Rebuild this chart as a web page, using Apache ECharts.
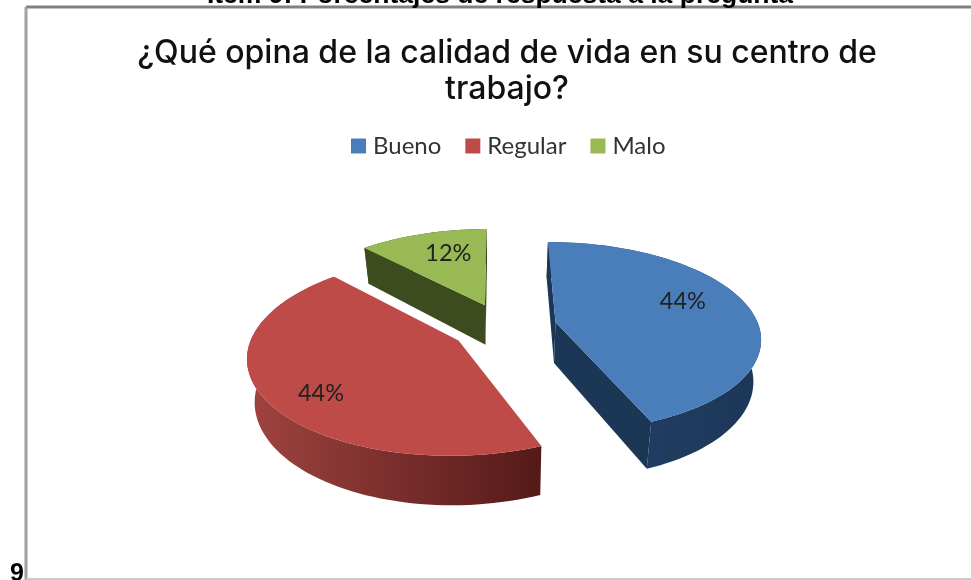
<!DOCTYPE html>
<html>
<head>
<meta charset="utf-8">
<script src="https://cdn.jsdelivr.net/npm/echarts@6/dist/echarts.min.js"></script>
<style>html,body{margin:0;padding:0;background:#fff}#chart{width:971px;height:580px}</style>
</head>
<body>
<div id="chart"></div>
<script>
// Survey answers, in percent
const categories = ['Bueno', 'Regular', 'Malo'];
const percentages = [44, 44, 12];
const topColors = ['#4a7ebb', '#be4b48', '#98b954'];
const wallLight = ['#24446c', '#a04340', '#47591f'];
const wallDark = ['#1c3656', '#541a18', '#3c4c1e'];
const labelShift = [[0.22, -0.15], [-0.215, 0.26], [-0.045, -0.23]];

// Projection of the tilted pie onto the page
const view = {
  x0: 504, y0: 327, radius: 203.5, squash: 0.46, persp: 0.15,
  explode: 0.26, depth: 41, baseShrink: 0.97, firstAngle: -0.3
};

function project(u, v, lowered) {
  const w = 1 - view.persp * v;
  const shrink = lowered ? view.baseShrink : 1;
  return [
    view.x0 + view.radius * u / w * shrink,
    view.y0 + view.radius * view.squash * v / w + (lowered ? view.depth / w : 0)
  ];
}

const rad = a => a * Math.PI / 180;
const dir = a => [Math.sin(rad(a)), -Math.cos(rad(a))];

function sliceSpan(index) {
  const total = percentages.reduce((s, p) => s + p, 0);
  const before = percentages.slice(0, index).reduce((s, p) => s + p, 0);
  const start = view.firstAngle + before / total * 360;
  return [start, start + percentages[index] / total * 360];
}

function renderSlice(index) {
  const [a0, a1] = sliceSpan(index);
  const mid = dir((a0 + a1) / 2);
  const ou = mid[0] * view.explode, ov = mid[1] * view.explode;
  const rim = [];
  for (let a = a0; a <= a1 + 1e-6; a += (a1 - a0) / 80) {
    const d = dir(a);
    rim.push([ou + d[0], ov + d[1]]);
  }
  const at = (p, low) => project(p[0], p[1], low);
  const centre = [ou, ov];
  const polygon = (points, fill) => ({ type: 'polygon', shape: { points }, style: { fill } });
  const shade = {
    type: 'linear', x: 0, y: 0, x2: 1, y2: 0,
    colorStops: [{ offset: 0, color: wallLight[index] }, { offset: 1, color: wallDark[index] }]
  };
  const children = [
    polygon(rim.map(p => at(p)).concat(rim.slice().reverse().map(p => at(p, true))), shade)
  ];
  // A cut face shows only when it turns towards the viewer
  if (-Math.cos(rad(a0 - 90)) > -0.2) {
    children.push(polygon([at(centre), at(rim[0]), at(rim[0], true), at(centre, true)], wallDark[index]));
  }
  if (-Math.cos(rad(a1 + 90)) > -0.2) {
    const end = rim[rim.length - 1];
    children.push(polygon([at(centre), at(end), at(end, true), at(centre, true)], wallDark[index]));
  }
  children.push(polygon([at(centre)].concat(rim.map(p => at(p))), topColors[index]));
  const s = labelShift[index];
  const lp = project(ou + s[0] + mid[0] * 0.45, ov + s[1] + mid[1] * 0.45);
  children.push({
    type: 'text',
    style: {
      x: lp[0], y: lp[1], text: percentages[index] + '%',
      fill: '#222', font: '23.5px Lato', align: 'center', verticalAlign: 'middle'
    }
  });
  return { type: 'group', children };
}

const chart = echarts.init(document.getElementById('chart'));
chart.setOption({
  animation: false,
  backgroundColor: '#fff',
  title: {
    text: '¿Qué opina de la calidad de vida en su centro de\ntrabajo?',
    left: 502, top: 30, textAlign: 'center',
    textStyle: { fontFamily: 'Inter', fontSize: 32, fontWeight: 500, color: '#111', lineHeight: 36 }
  },
  legend: {
    data: categories, top: 129, left: 346, icon: 'rect',
    itemWidth: 15, itemHeight: 15, itemGap: 24,
    textStyle: { fontFamily: 'Lato', fontSize: 24, color: '#333', padding: [0, 0, 0, 2] }
  },
  graphic: [
    { type: 'line', shape: { x1: 26, y1: 7, x2: 971, y2: 7 }, style: { stroke: '#808080', lineWidth: 3 } },
    { type: 'line', shape: { x1: 26, y1: 7, x2: 26, y2: 580 }, style: { stroke: '#a0a0a0', lineWidth: 3 } },
    { type: 'line', shape: { x1: 26, y1: 579, x2: 971, y2: 579 }, style: { stroke: '#c8c8c8', lineWidth: 2 } },
    { type: 'text', style: { x: 500, y: 9, text: 'Item 9: Porcentajes de respuesta a la pregunta', font: 'bold 26.5px Liberation Sans', fill: '#000', align: 'center', verticalAlign: 'bottom' } },
    { type: 'text', style: { x: 10, y: 587, text: '9', font: 'bold 25px Liberation Sans', fill: '#000', align: 'left', verticalAlign: 'bottom' } }
  ],
  // Back slice first so nearer slices paint over it
  series: [2, 1, 0].map(i => ({
    type: 'custom',
    name: categories[i],
    coordinateSystem: 'none',
    color: topColors[i],
    itemStyle: { color: topColors[i] },
    data: [percentages[i]],
    renderItem: () => renderSlice(i)
  }))
});
</script>
</body>
</html>
